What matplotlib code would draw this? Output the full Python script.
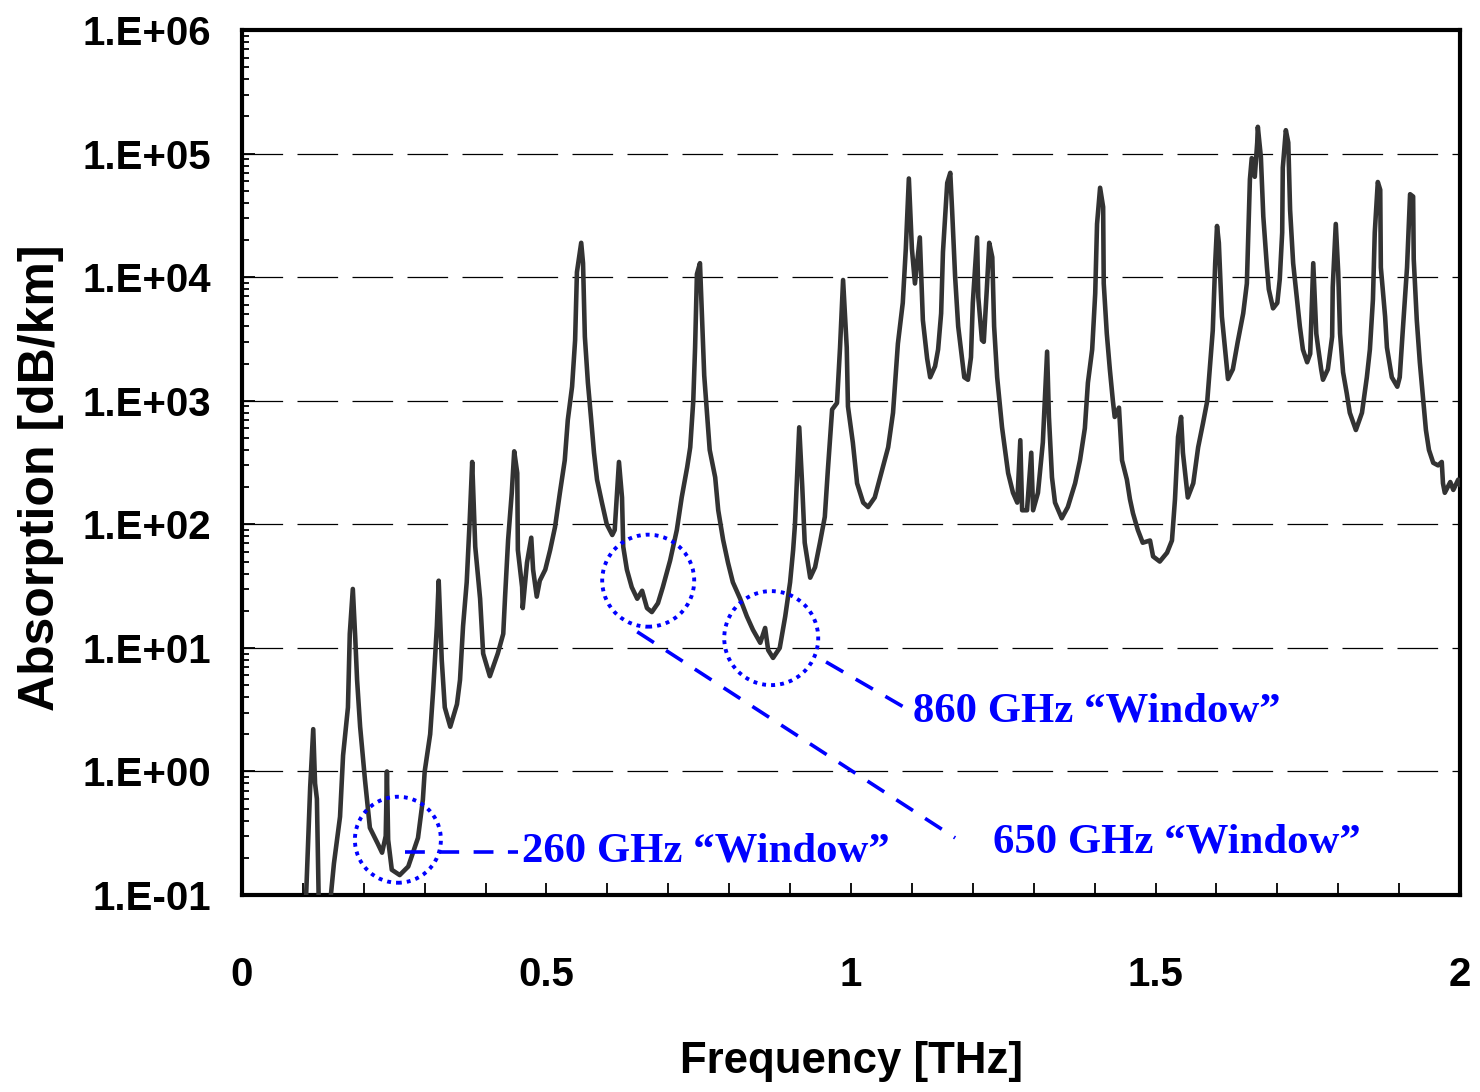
import numpy as np
import matplotlib
matplotlib.use('Agg')
import matplotlib.pyplot as plt
from matplotlib.patches import Circle
from matplotlib.transforms import ScaledTranslation
from matplotlib.ticker import FixedLocator, MultipleLocator, FuncFormatter, LogLocator, NullFormatter

# absorption spectrum (THz, dB/km)
freq = [0.095, 0.105, 0.112, 0.117, 0.120, 0.123, 0.126, 0.131, 0.141, 0.146,
        0.151, 0.161, 0.166, 0.174, 0.177, 0.182, 0.186, 0.189, 0.194, 0.202,
        0.210, 0.223, 0.230, 0.236, 0.238, 0.240, 0.246, 0.259, 0.273, 0.289,
        0.297, 0.300, 0.309, 0.314, 0.320, 0.323, 0.328, 0.333, 0.342, 0.353,
        0.358, 0.363, 0.369, 0.374, 0.378, 0.383, 0.391, 0.396, 0.407, 0.420,
        0.429, 0.432, 0.437, 0.443, 0.447, 0.452, 0.453, 0.460, 0.461, 0.468,
        0.475, 0.478, 0.484, 0.489, 0.498, 0.506, 0.514, 0.522, 0.530, 0.535,
        0.542, 0.547, 0.550, 0.557, 0.560, 0.563, 0.568, 0.573, 0.578, 0.583,
        0.591, 0.599, 0.608, 0.612, 0.619, 0.624, 0.626, 0.632, 0.640, 0.649,
        0.657, 0.665, 0.673, 0.683, 0.691, 0.703, 0.714, 0.722, 0.731, 0.736,
        0.741, 0.744, 0.747, 0.752, 0.755, 0.759, 0.764, 0.768, 0.777, 0.782,
        0.790, 0.798, 0.806, 0.818, 0.829, 0.839, 0.851, 0.859, 0.864, 0.872,
        0.883, 0.892, 0.900, 0.905, 0.908, 0.915, 0.920, 0.924, 0.933, 0.941,
        0.949, 0.957, 0.962, 0.969, 0.977, 0.982, 0.987, 0.993, 0.995, 1.003,
        1.010, 1.020, 1.028, 1.039, 1.051, 1.061, 1.069, 1.077, 1.085, 1.090,
        1.095, 1.100, 1.105, 1.113, 1.118, 1.125, 1.130, 1.138, 1.143, 1.148,
        1.151, 1.158, 1.163, 1.166, 1.171, 1.176, 1.182, 1.186, 1.192, 1.197,
        1.200, 1.207, 1.209, 1.215, 1.218, 1.223, 1.227, 1.232, 1.235, 1.240,
        1.248, 1.253, 1.258, 1.266, 1.273, 1.278, 1.281, 1.289, 1.296, 1.299,
        1.307, 1.315, 1.322, 1.325, 1.330, 1.335, 1.346, 1.356, 1.368, 1.376,
        1.384, 1.389, 1.396, 1.401, 1.404, 1.409, 1.414, 1.415, 1.420, 1.425,
        1.430, 1.433, 1.440, 1.445, 1.453, 1.458, 1.463, 1.471, 1.479, 1.491,
        1.496, 1.507, 1.519, 1.527, 1.532, 1.537, 1.542, 1.545, 1.553, 1.562,
        1.570, 1.578, 1.585, 1.589, 1.594, 1.598, 1.601, 1.604, 1.609, 1.619,
        1.627, 1.635, 1.644, 1.650, 1.655, 1.658, 1.663, 1.667, 1.668, 1.673,
        1.677, 1.683, 1.686, 1.693, 1.700, 1.704, 1.708, 1.709, 1.714, 1.718,
        1.721, 1.726, 1.732, 1.737, 1.742, 1.749, 1.754, 1.759, 1.764, 1.767,
        1.772, 1.775, 1.783, 1.790, 1.791, 1.796, 1.800, 1.803, 1.808, 1.814,
        1.819, 1.829, 1.839, 1.847, 1.852, 1.857, 1.860, 1.865, 1.869, 1.870,
        1.877, 1.880, 1.888, 1.897, 1.901, 1.906, 1.913, 1.918, 1.923, 1.924,
        1.929, 1.934, 1.939, 1.944, 1.949, 1.956, 1.964, 1.970, 1.972, 1.975,
        1.984, 1.989, 1.997, 2.000]
absorption = [0.05, 0.09, 0.75, 2.2, 0.8, 0.6, 0.09, 0.05, 0.05, 0.1,
              0.18, 0.43, 1.35, 3.3, 13, 30, 12, 5.5, 2.3, 0.85,
              0.35, 0.26, 0.22, 0.3, 1.0, 0.28, 0.16, 0.145, 0.17, 0.29,
              0.59, 1.0, 2.0, 4.6, 15, 35, 8, 3.3, 2.3, 3.5,
              5.5, 15, 34, 110, 320, 66, 25, 9, 5.9, 9,
              13, 26, 75, 180, 390, 260, 62, 31, 21, 49,
              78, 43, 26, 35, 43, 62, 95, 180, 330, 700,
              1300, 3100, 11000, 19000, 13000, 3300, 1400, 740, 380, 230,
              150, 100, 82, 90, 320, 165, 66, 43, 31, 25,
              29, 21, 19.5, 23, 31, 51, 90, 165, 290, 420,
              1000, 2700, 10600, 13000, 5300, 1600, 750, 400, 240, 130,
              75, 49, 34, 25, 18, 14, 11, 14.5, 9.6, 8.3,
              10, 18, 34, 62, 100, 610, 200, 71, 37, 45,
              71, 115, 275, 850, 960, 2700, 9500, 2700, 900, 460,
              215, 150, 138, 165, 275, 420, 800, 2900, 6200, 17000,
              63000, 17000, 8900, 21000, 4500, 2200, 1550, 1900, 2600, 5100,
              16000, 58000, 70000, 35000, 10000, 4000, 2250, 1550, 1480, 2250,
              6200, 21000, 6900, 3100, 3000, 8000, 19000, 14500, 4000, 1550,
              610, 400, 260, 180, 150, 480, 130, 130, 380, 130,
              180, 460, 2500, 740, 240, 150, 112, 138, 215, 330,
              600, 1400, 2600, 7400, 27000, 53000, 37000, 8900, 3500, 1800,
              1000, 740, 880, 330, 230, 160, 123, 90, 71, 74,
              55, 50, 59, 74, 160, 510, 740, 380, 165, 215,
              420, 660, 1000, 1800, 3700, 13000, 26000, 19000, 4800, 1500,
              1800, 3000, 5100, 8900, 62000, 92000, 65000, 123000, 165000, 94000,
              31000, 12000, 8000, 5600, 6200, 9600, 23000, 77000, 155000, 123000,
              35000, 13000, 6900, 4000, 2600, 2050, 2400, 13000, 3500, 2700,
              1800, 1480, 1800, 3300, 8300, 27000, 11000, 3500, 1700, 1150,
              800, 580, 800, 1550, 2600, 6600, 23000, 59000, 51000, 12000,
              4800, 2700, 1550, 1300, 1550, 3700, 12000, 47000, 45000, 14000,
              4500, 2050, 1080, 580, 400, 315, 300, 320, 215, 180,
              220, 190, 230, 210]

# transmission windows: circle centre, label anchor, leader line ends
window_labels = ['260 GHz \u201cWindow\u201d', '650 GHz \u201cWindow\u201d', '860 GHz \u201cWindow\u201d']
circle_freq = [0.256, 0.667, 0.869]
circle_abs = [0.28, 35, 12]
circle_r = [0.43, 0.46, 0.47]  # inches
line_start = [(0.268, 0.224), (0.649, 13.5), (0.959, 7.7)]
line_end = [(0.453, 0.224), (1.171, 0.29), (1.089, 3.27)]
label_pos = [(0.460, 0.224), (1.233, 0.264), (1.102, 3.03)]

plt.rcParams['font.family'] = 'Liberation Sans'
plt.rcParams['font.weight'] = 'bold'

fig = plt.figure(figsize=(14.8, 10.92), dpi=100)
ax = fig.add_axes([0.1635, 0.1804, 0.823, 0.792])

ax.plot(freq, absorption, color='#333333', lw=3.3, solid_joinstyle='round', zorder=3)

ax.set_yscale('log')
ax.set_xlim(0, 2)
ax.set_ylim(0.1, 1e6)

ax.xaxis.set_major_locator(MultipleLocator(0.5))
ax.xaxis.set_minor_locator(MultipleLocator(0.1))
ax.xaxis.set_major_formatter(FuncFormatter(lambda v, p: '%g' % v))
ax.yaxis.set_major_locator(FixedLocator([10.0 ** k for k in range(-1, 7)]))
ax.yaxis.set_minor_locator(LogLocator(base=10, subs=np.arange(2, 10)))
ax.yaxis.set_minor_formatter(NullFormatter())
ax.yaxis.set_major_formatter(FuncFormatter(lambda v, p: '1.E%+03d' % int(round(np.log10(v)))))

ax.tick_params(axis='both', which='both', direction='in', width=1.3, colors='black')
ax.tick_params(axis='x', which='major', length=9, pad=44, labelsize=29)
ax.tick_params(axis='x', which='minor', length=9)
ax.tick_params(axis='y', which='major', length=9, pad=22, labelsize=29)
ax.tick_params(axis='y', which='minor', length=5)

ax.yaxis.grid(True, which='major', color='black', lw=0.9, linestyle=(0, (32.5, 11.5)))
ax.set_axisbelow(True)

for s in ax.spines.values():
    s.set_linewidth(3)

ax.set_xlabel('Frequency [THz]', fontsize=31.5, fontweight='bold', labelpad=34)
ax.set_ylabel('Absorption [dB/km]', fontsize=36, fontweight='bold')
ax.yaxis.set_label_coords(-0.146, 0.482)

for i in range(3):
    tr = fig.dpi_scale_trans + ScaledTranslation(circle_freq[i], circle_abs[i], ax.transData)
    ax.add_patch(Circle((0, 0), circle_r[i], transform=tr, fill=False, ec='blue',
                        lw=2.8, linestyle=(0, (1, 1.3)), zorder=4, clip_on=False))
    ax.plot([line_start[i][0], line_end[i][0]], [line_start[i][1], line_end[i][1]],
            color='blue', lw=2.6, linestyle=(0, (5.5, 4)), zorder=4)
    ax.text(label_pos[i][0], label_pos[i][1], window_labels[i], color='blue',
            fontsize=30.8, fontweight='bold', family='Liberation Serif',
            ha='left', va='center', zorder=5)

fig.savefig('out.png', dpi=100)
